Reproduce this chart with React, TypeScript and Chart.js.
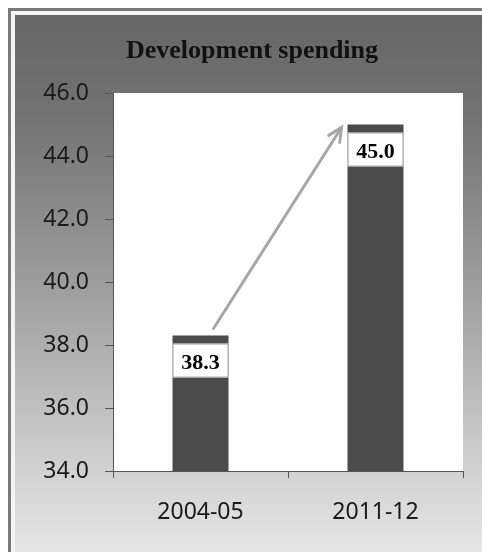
import React, { useEffect, useRef } from "react";
import { Chart, registerables } from "chart.js";

Chart.register(...registerables);

const categories = ["2004-05", "2011-12"];
const spending = [38.3, 45.0];
const yMin = 34;
const yMax = 46;
const yStep = 2;
const titleText = "Development spending";

const framePlugin = {
  id: "frame",
  beforeDraw(chart: any) {
    const { ctx, width, height, chartArea } = chart;
    ctx.save();
    ctx.fillStyle = "#ffffff";
    ctx.fillRect(0, 0, width, height);
    ctx.fillStyle = "#7a7a7a";
    ctx.fillRect(8, 8, width + 20, height);
    ctx.fillStyle = "#f4f4f4";
    ctx.fillRect(11, 11, width + 20, height);
    const g = ctx.createLinearGradient(0, 15, 0, height);
    g.addColorStop(0, "#666666");
    g.addColorStop(0.2, "#747474");
    g.addColorStop(0.55, "#a4a4a4");
    g.addColorStop(0.85, "#d2d2d2");
    g.addColorStop(1, "#e6e6e6");
    ctx.fillStyle = g;
    ctx.fillRect(15, 15, width + 20, height);
    ctx.fillStyle = "#ffffff";
    ctx.fillRect(chartArea.left, chartArea.top, chartArea.right - chartArea.left, chartArea.bottom - chartArea.top);
    ctx.fillStyle = "#111111";
    ctx.font = "bold 26px 'Liberation Serif', 'Times New Roman', serif";
    ctx.textAlign = "center";
    ctx.textBaseline = "alphabetic";
    ctx.fillText(titleText, 252, 58);
    ctx.restore();
  },
  afterDatasetsDraw(chart: any) {
    const { ctx } = chart;
    const meta = chart.getDatasetMeta(0);
    ctx.save();
    meta.data.forEach((bar: any, i: number) => {
      const w = bar.width;
      const x0 = bar.x - w / 2;
      const top = bar.y + 8;
      ctx.fillStyle = "#ffffff";
      ctx.fillRect(x0, top, w, 34);
      ctx.strokeStyle = "#a0a0a0";
      ctx.lineWidth = 1;
      ctx.strokeRect(x0 + 0.5, top + 0.5, w - 1, 33);
      ctx.fillStyle = "#000000";
      ctx.font = "bold 22px 'Liberation Serif', 'Times New Roman', serif";
      ctx.textAlign = "center";
      ctx.textBaseline = "alphabetic";
      ctx.fillText(spending[i].toFixed(1), bar.x, top + 25);
    });
    const b0 = meta.data[0];
    const b1 = meta.data[1];
    const sx = b0.x + 13;
    const sy = b0.y - 7;
    const ex = b1.x - b1.width / 2 - 6;
    const ey = b1.y + 3;
    ctx.strokeStyle = "#a6a6a6";
    ctx.lineWidth = 3;
    ctx.lineCap = "round";
    ctx.beginPath();
    ctx.moveTo(sx, sy);
    ctx.lineTo(ex, ey);
    ctx.stroke();
    const ang = Math.atan2(ey - sy, ex - sx);
    const hl = 15;
    ctx.beginPath();
    ctx.moveTo(ex - hl * Math.cos(ang - 0.45), ey - hl * Math.sin(ang - 0.45));
    ctx.lineTo(ex, ey);
    ctx.lineTo(ex - hl * Math.cos(ang + 0.45), ey - hl * Math.sin(ang + 0.45));
    ctx.stroke();
    ctx.restore();
  },
};

export default function App() {
  const ref = useRef<HTMLCanvasElement>(null);
  useEffect(() => {
    if (!ref.current) return;
    const chart = new Chart(ref.current, {
      type: "bar",
      data: {
        labels: categories,
        datasets: [
          {
            data: spending,
            backgroundColor: "#4b4b4b",
            borderWidth: 0,
            barPercentage: 0.32,
            categoryPercentage: 1,
          },
        ],
      },
      options: {
        animation: false,
        responsive: false,
        maintainAspectRatio: false,
        layout: { padding: { top: 93, right: 19, left: 0, bottom: 0 } },
        plugins: { legend: { display: false }, tooltip: { enabled: false }, title: { display: false } },
        scales: {
          x: {
            grid: { display: true, drawOnChartArea: false, offset: true, tickLength: 7, color: "#555555" },
            border: { display: true, color: "#555555", width: 1 },
            ticks: { color: "#1a1a1a", font: { family: "'Noto Sans', 'Open Sans', sans-serif", size: 23 }, padding: 21 },
            afterFit(scale: any) {
              scale.height = 81;
            },
          },
          y: {
            min: yMin,
            max: yMax,
            grid: { display: true, drawOnChartArea: false, tickLength: 8, color: "#555555" },
            border: { display: true, color: "#555555", width: 1 },
            ticks: {
              stepSize: yStep,
              color: "#1a1a1a",
              font: { family: "'Noto Sans', 'Open Sans', sans-serif", size: 23 },
              padding: 16,
              callback: (v: any) => Number(v).toFixed(1),
            },
            afterFit(scale: any) {
              scale.width = 113;
            },
          },
        },
      },
      plugins: [framePlugin],
    });
    return () => chart.destroy();
  }, []);
  return (
    <div style={{ position: "fixed", left: 0, top: 0, width: 482, height: 552 }}>
      <canvas ref={ref} width={482} height={552} style={{ display: "block" }} />
    </div>
  );
}
